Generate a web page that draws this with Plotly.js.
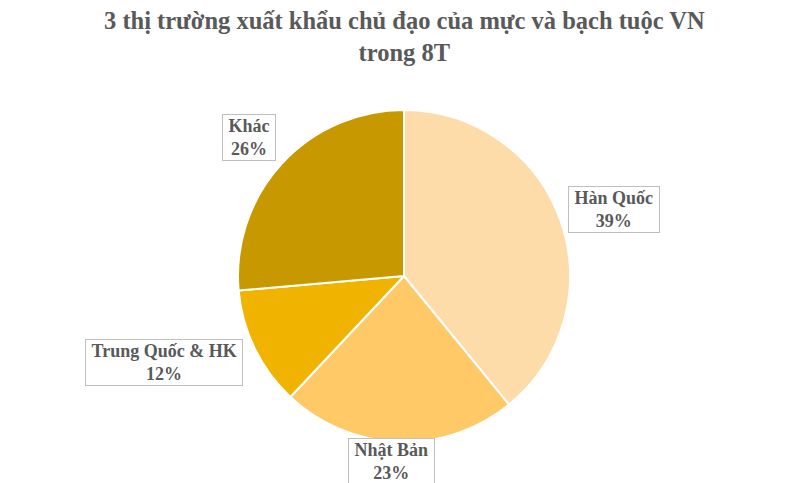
<!DOCTYPE html>
<html>
<head>
<meta charset="utf-8">
<script src="https://cdn.plot.ly/plotly-3.0.1.min.js"></script>
<style>html,body{margin:0;padding:0;background:#fff;}#chart{width:809px;height:483px;}</style>
</head>
<body>
<div id="chart"></div>
<script>
const categories = ["Hàn Quốc", "Nhật Bản", "Trung Quốc & HK", "Khác"];
const shares = [39.1, 22.9, 11.6, 26.4];
const sliceColors = ["#FEDCA9", "#FEC966", "#EFB300", "#C89800"];
const chartTitle = "3 thị trường xuất khẩu chủ đạo của mực và bạch tuộc VN<br>trong 8T";

const W = 809, H = 483;
const cx = 404, cy = 276, R = 166;
// label box centres in pixels (layout only)
const labelCentres = [[614, 209], [391, 461], [164, 362], [249, 137]];

const total = shares.reduce((a, b) => a + b, 0);
const annotations = categories.map((c, i) => ({
  x: labelCentres[i][0] / W, y: 1 - labelCentres[i][1] / H, xref: "paper", yref: "paper",
  xanchor: "center", yanchor: "middle", showarrow: false,
  text: "<b>&nbsp;" + c + "&nbsp;<br>" + Math.round(shares[i] / total * 100) + "%</b>",
  font: {family: "Liberation Serif, Times New Roman, serif", size: 18, color: "#595959"},
  bgcolor: "#FFFFFF", bordercolor: "#BFBFBF", borderwidth: 1, borderpad: 1
}));
annotations.push({
  x: 0.5, y: 1 - 36 / H, xref: "paper", yref: "paper",
  xanchor: "center", yanchor: "middle", showarrow: false,
  text: "<b>" + chartTitle + "</b>",
  font: {family: "Liberation Serif, Times New Roman, serif", size: 24.5, color: "#595959"}
});

const data = [{
  type: "pie",
  labels: categories,
  values: shares,
  sort: false,
  direction: "clockwise",
  rotation: 0,
  textinfo: "none",
  hoverinfo: "label+percent",
  marker: {colors: sliceColors, line: {color: "#FFFFFF", width: 2}},
  domain: {x: [(cx - R) / W, (cx + R) / W], y: [1 - (cy + R) / H, 1 - (cy - R) / H]}
}];

const layout = {
  width: W, height: H,
  margin: {l: 0, r: 0, t: 0, b: 0},
  paper_bgcolor: "#FFFFFF",
  showlegend: false,
  annotations: annotations
};

Plotly.newPlot("chart", data, layout, {displayModeBar: false, staticPlot: true});
</script>
</body>
</html>
